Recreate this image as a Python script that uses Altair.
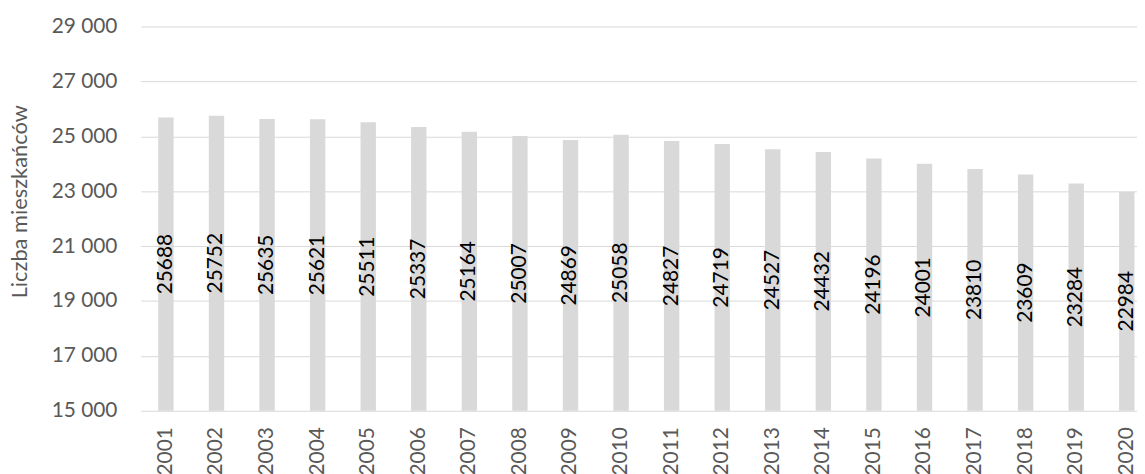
import altair as alt
import pandas as pd

years = [str(y) for y in range(2001, 2021)]
values = [25688, 25752, 25635, 25621, 25511, 25337, 25164, 25007, 24869, 25058,
          24827, 24719, 24527, 24432, 24196, 24001, 23810, 23609, 23284, 22984]
y_min, y_max = 15000, 29000
y_ticks = [15000, 17000, 19000, 21000, 23000, 25000, 27000, 29000]

df = pd.DataFrame({"rok": years, "liczba": values})

FONT = "Lato"
GRAY = "#595959"

x_enc = alt.X(
    "rok:N",
    sort=years,
    scale=alt.Scale(paddingInner=0.696, paddingOuter=0.198, align=0.873, round=False),
    axis=alt.Axis(
        title=None, labelAngle=-90, labelFont=FONT, labelFontSize=21,
        labelColor=GRAY, labelPadding=16, ticks=False, domain=False, grid=False,
    ),
)

base = alt.Chart(df).transform_calculate(
    mid=f"({y_min} + datum.liczba) / 2", base=f"{y_min}"
)

bars = base.mark_bar(color="#d9d9d9").encode(
    x=x_enc,
    y=alt.Y(
        "liczba:Q",
        scale=alt.Scale(domain=[y_min, y_max], nice=False, zero=False),
        axis=alt.Axis(
            title="Liczba mieszkańców", values=y_ticks,
            labelExpr="replace(format(datum.value, ','), ',', ' ')",
            labelFont=FONT, labelFontSize=21, labelColor=GRAY, labelPadding=24,
            ticks=False, domain=False, grid=True, gridColor="#d9d9d9", gridWidth=1,
            titleFont=FONT, titleFontSize=22, titleFontWeight="normal", titleColor=GRAY,
            titleAngle=-90, titleX=-115, titleY=176, titleAlign="center",
            titleBaseline="alphabetic",
        ),
    ),
    y2=alt.Y2("base:Q"),
)

labels = base.mark_text(
    angle=270, align="center", baseline="middle", font=FONT, fontSize=21, color="black"
).encode(
    x=alt.X("rok:N", sort=years),
    y=alt.Y("mid:Q"),
    text=alt.Text("liczba:Q", format="d"),
)

chart = alt.layer(bars, labels).properties(
    width=1003.3,
    height=387,
    autosize=alt.AutoSizeParams(type="none"),
    padding={"left": 133.7, "top": 17, "right": 0, "bottom": 62},
).configure_view(stroke=None)

chart.save("out.html", embed_options={"renderer": "svg", "actions": False})
